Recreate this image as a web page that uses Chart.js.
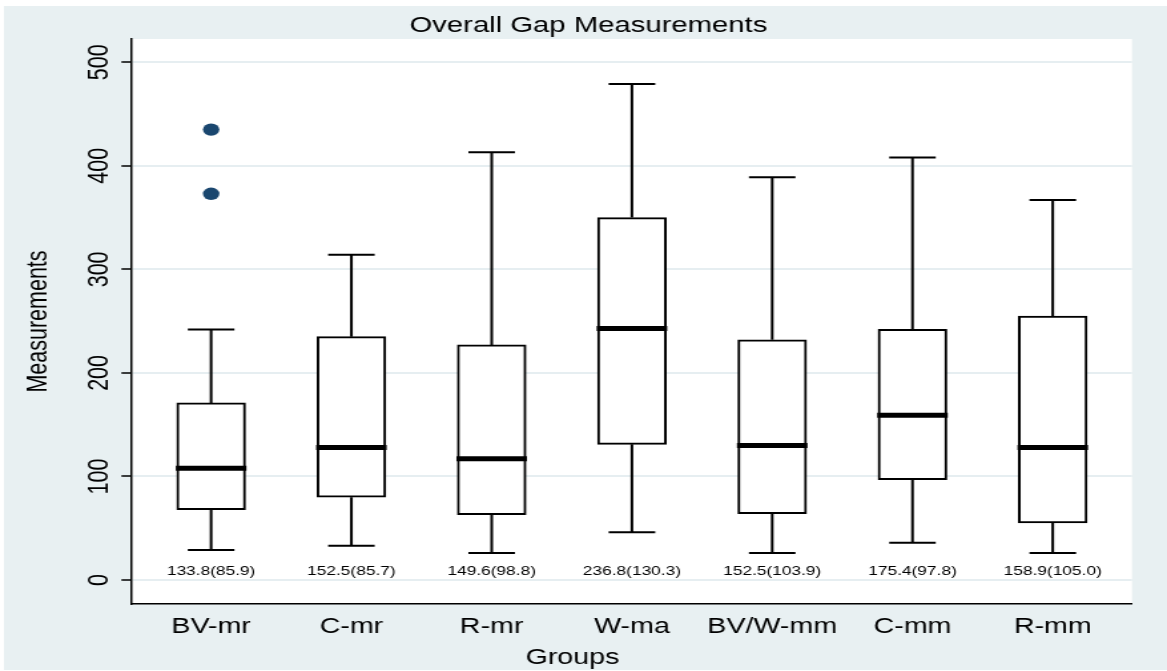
<!DOCTYPE html>
<html>
<head>
<meta charset="utf-8">
<title>Overall Gap Measurements</title>
<script src="https://cdn.jsdelivr.net/npm/chart.js@4.4.0/dist/chart.umd.min.js"></script>
<style>
  html, body { margin: 0; padding: 0; background: #ffffff; }
  /* the plot is laid out on an 877px-wide canvas and shown 1167px wide */
  #chart { display: block; width: 1167px; height: 671px; }
</style>
</head>
<body>
<canvas id="chart" width="877" height="671" style="width:1167px;height:671px"></canvas>
<script>
// Groups and their box-plot summaries
const groups        = ['BV-mr', 'C-mr', 'R-mr', 'W-ma', 'BV/W-mm', 'C-mm', 'R-mm'];
const lowerAdjacent = [29, 33, 26, 46, 26, 36, 26];
const quartile1     = [68, 80, 63, 131, 64, 97, 55];
const medians       = [108, 128, 117, 243, 130, 159, 128];
const quartile3     = [171, 235, 227, 350, 232, 242, 255];
const upperAdjacent = [242, 314, 413, 479, 389, 408, 367];

// Outside values: group index and measurement
const outlierGroup = [0, 0];
const outlierValue = [373, 435];

// Mean (SD) printed under each box
const meanSdLabels = ['133.8(85.9)', '152.5(85.7)', '149.6(98.8)', '236.8(130.3)',
                      '152.5(103.9)', '175.4(97.8)', '158.9(105.0)'];

// Y axis ticks
const yTicks = [0, 100, 200, 300, 400, 500];

const FONT = "'Liberation Sans', Arial, Helvetica, sans-serif";
const W = 877, H = 671;
const BOX_W = 51.6;     // box width
const CAP_HALF = 17.5;  // half width of whisker caps
const REGION_BG = '#e8f0f2';

const boxPlot = {
  id: 'boxPlot',
  beforeDraw(chart) {
    const { ctx, chartArea: a } = chart;
    ctx.save();
    ctx.fillStyle = '#ffffff';
    ctx.fillRect(0, 0, W, H);
    ctx.fillStyle = REGION_BG;
    ctx.fillRect(3, 6, W - 3, H - 7);
    ctx.fillStyle = '#ffffff';
    ctx.fillRect(a.left, a.top, a.right - a.left, a.bottom - a.top);
    ctx.restore();
  },
  beforeDatasetsDraw(chart) {
    // whiskers from the box edges to the adjacent values
    const { ctx, scales: { x, y } } = chart;
    ctx.save();
    ctx.strokeStyle = '#000000';
    ctx.lineWidth = 2;
    ctx.lineCap = 'butt';
    groups.forEach((g, i) => {
      const cx = x.getPixelForValue(i);
      [[quartile3[i], upperAdjacent[i]], [quartile1[i], lowerAdjacent[i]]].forEach(([from, to]) => {
        const pTo = y.getPixelForValue(to);
        ctx.beginPath();
        ctx.moveTo(cx, y.getPixelForValue(from));
        ctx.lineTo(cx, pTo);
        ctx.moveTo(cx - CAP_HALF, pTo);
        ctx.lineTo(cx + CAP_HALF, pTo);
        ctx.stroke();
      });
    });
    ctx.restore();
  },
  afterDatasetsDraw(chart) {
    // median bars
    const { ctx, scales: { x, y } } = chart;
    ctx.save();
    ctx.strokeStyle = '#000000';
    ctx.lineWidth = 5;
    ctx.lineCap = 'butt';
    groups.forEach((g, i) => {
      const cx = x.getPixelForValue(i);
      const py = y.getPixelForValue(medians[i]);
      ctx.beginPath();
      ctx.moveTo(cx - BOX_W / 2 - 0.7, py);
      ctx.lineTo(cx + BOX_W / 2 + 0.7, py);
      ctx.stroke();
    });
    ctx.restore();
  },
  afterDraw(chart) {
    const { ctx, chartArea: a, scales: { x, y } } = chart;
    ctx.save();
    ctx.fillStyle = '#000000';

    // chart title
    ctx.font = `22px ${FONT}`;
    ctx.textAlign = 'center';
    ctx.textBaseline = 'alphabetic';
    ctx.fillText('Overall Gap Measurements', 442.2, 31.5);

    // x axis title
    ctx.font = `21.5px ${FONT}`;
    ctx.fillText('Groups', 430.2, 664);

    // y axis tick labels, turned to read upwards
    y.ticks.forEach(t => {
      ctx.save();
      ctx.translate(73.5, y.getPixelForValue(t.value));
      ctx.rotate(-Math.PI / 2);
      ctx.fillText(String(t.value), 0, 7.7);
      ctx.restore();
    });

    // y axis title
    ctx.save();
    ctx.translate(26.9, (a.top + a.bottom) / 2);
    ctx.rotate(-Math.PI / 2);
    ctx.fillText('Measurements', 0, 7.7);
    ctx.restore();

    // mean (SD) under each box
    ctx.font = `13px ${FONT}`;
    const base = y.getPixelForValue(0) - 4.5;
    meanSdLabels.forEach((lab, i) => {
      ctx.fillText(lab, x.getPixelForValue(i), base);
    });
    ctx.restore();
  }
};

const chart = new Chart(document.getElementById('chart'), {
  type: 'bar',
  data: {
    datasets: [
      {
        type: 'bar',
        data: groups.map((g, i) => ({ x: i, y: [quartile1[i], quartile3[i]] })),
        backgroundColor: '#ffffff',
        borderColor: '#000000',
        borderWidth: 2,
        borderSkipped: false,
        barThickness: BOX_W,
        order: 2
      },
      {
        type: 'scatter',
        data: outlierGroup.map((g, k) => ({ x: g, y: outlierValue[k] })),
        pointRadius: 6.2,
        pointBackgroundColor: '#1a476f',
        backgroundColor: '#1a476f',
        pointBorderWidth: 0,
        borderWidth: 0,
        order: 1
      }
    ]
  },
  options: {
    responsive: false,
    animation: false,
    devicePixelRatio: 1,
    layout: { padding: { left: 33.8, right: 26.3, top: 39, bottom: 0 } },
    plugins: {
      legend: { display: false },
      title: { display: false },
      tooltip: { enabled: false }
    },
    scales: {
      x: {
        type: 'linear',
        min: -0.564,
        max: 6.565,
        offset: false,
        grid: { display: false, drawTicks: false },
        border: { display: true, color: '#000000', width: 1.5 },
        ticks: {
          color: '#000000',
          font: { family: FONT, size: 21.5 },
          padding: 10,
          autoSkip: false,
          maxRotation: 0,
          callback: v => groups[v] ?? ''
        },
        afterBuildTicks: s => { s.ticks = groups.map((g, i) => ({ value: i })); },
        afterFit: s => { s.height = 67; }
      },
      y: {
        type: 'linear',
        min: -23.2,
        max: 522.5,
        grid: {
          color: '#e6eef1',
          lineWidth: 2,
          drawTicks: true,
          tickLength: 8,
          tickColor: '#000000',
          tickWidth: 1.5
        },
        border: { display: true, color: '#000000', width: 1.5 },
        ticks: { display: false },
        afterBuildTicks: s => { s.ticks = yTicks.map(v => ({ value: v })); },
        afterFit: s => { s.width = 65.4; }
      }
    }
  },
  plugins: [boxPlot]
});
chart.canvas.style.width = '1167px';
chart.canvas.style.height = '671px';
</script>
</body>
</html>
